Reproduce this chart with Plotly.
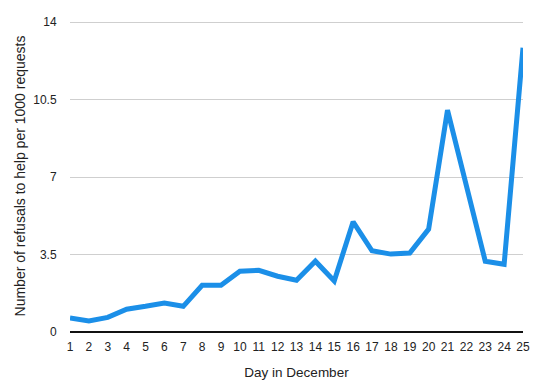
import plotly.graph_objects as go

days = list(range(1, 26))
refusals = [0.63, 0.50, 0.66, 1.03, 1.16, 1.31, 1.16, 2.11, 2.11, 2.75,
            2.79, 2.52, 2.34, 3.20, 2.31, 4.98, 3.67, 3.52, 3.57, 4.65,
            10.03, 6.70, 3.20, 3.06, 12.85]
y_ticks = [0, 3.5, 7, 10.5, 14]
y_tick_labels = ["0", "3.5", "7", "10.5", "14"]

fig = go.Figure()
fig.add_trace(go.Scatter(
    x=days, y=refusals, mode="lines",
    line=dict(color="#1b8fe8", width=5),
    hoverinfo="x+y",
))

font = dict(family="Liberation Sans, Arial, Helvetica, sans-serif", size=12, color="#222222")

fig.update_layout(
    width=551, height=384,
    margin=dict(l=62, r=36, t=12, b=60, autoexpand=False),
    paper_bgcolor="white", plot_bgcolor="white",
    showlegend=False,
    font=font,
    xaxis=dict(
        range=[1, 25], tickmode="array", tickvals=days,
        ticktext=[str(d) for d in days],
        showgrid=False, zeroline=False, showline=False,
        ticks="outside", ticklen=4, tickcolor="rgba(0,0,0,0)",
        title=dict(text="Day in December", font=dict(size=13.5, color="#222222"), standoff=14),
        tickfont=dict(size=12, color="#222222"),
        automargin=False,
    ),
    yaxis=dict(
        range=[0, 14.1], tickmode="array", tickvals=y_ticks, ticktext=y_tick_labels,
        showgrid=True, gridcolor="#cfcfcf", gridwidth=1,
        zeroline=True, zerolinecolor="#111111", zerolinewidth=1.5,
        showline=False,
        ticks="outside", ticklen=10, tickcolor="rgba(0,0,0,0)",
        title=dict(text="Number of refusals to help per 1000 requests", font=dict(size=14, color="#222222"), standoff=4),
        tickfont=dict(size=12, color="#222222"),
        automargin=False,
    ),
)

fig.write_html("out.html")
